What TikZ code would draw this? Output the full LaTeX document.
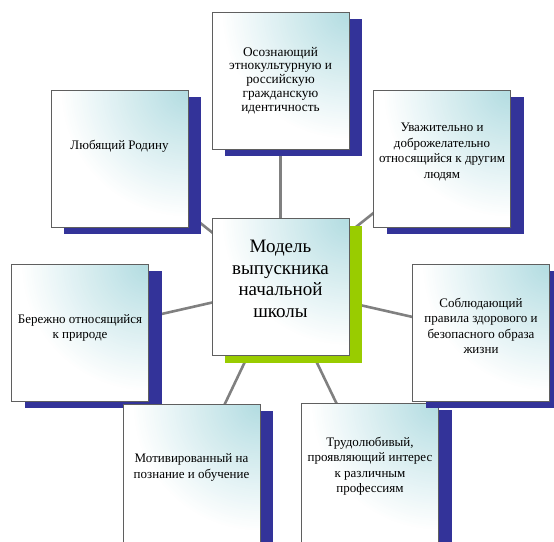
\documentclass[tikz,border=0pt]{standalone}
\usepackage{fontspec}
\setmainfont{Liberation Serif}
\usetikzlibrary{shadows,backgrounds}
\definecolor{teal0}{RGB}{178,220,225}
\definecolor{sblue}{RGB}{51,51,153}
\definecolor{sgreen}{RGB}{153,204,0}
\definecolor{bord}{RGB}{95,95,95}
\definecolor{conn}{RGB}{128,128,128}
\tikzset{
  box/.style={draw=bord, line width=0.8pt, minimum width=137pt, minimum height=137pt,
    inner sep=0pt, outer sep=0pt, fill=white,
    path picture={
      \foreach \i in {0,...,60} {
        \pgfmathsetmacro\rr{128*(1-\i/60)}
        \pgfmathsetmacro\pp{100*\i/60}
        \fill[teal0!\pp!white] (path picture bounding box.north east) circle (\rr pt);
      }},
    drop shadow={shadow xshift=13pt, shadow yshift=-7pt, fill=#1, opacity=1, draw=none}},
  box/.default=sblue,
  txt/.style={align=center, inner sep=0pt, text=black, font=\fontsize{13}{15.5}\selectfont},
  ttxt/.style={txt, font=\fontsize{13.3}{13.8}\selectfont},
  ctxt/.style={align=center, inner sep=0pt, text=black, font=\fontsize{19}{21.7}\selectfont},
  conline/.style={draw=conn, line width=2.6pt}
}
\begin{document}
\begin{tikzpicture}[x=1pt,y=-1pt]
\useasboundingbox (0,0) rectangle (554,541);
\clip (0,0) rectangle (554,541);
\node[box, label={[ttxt]center:{Осознающий\\этнокультурную и\\российскую\\гражданскую\\идентичность}}] (T) at (280.5,80.5) {};
\node[box, label={[txt,yshift=12.5pt]center:{Любящий Родину}}] (L1) at (119.5,158.5) {};
\node[box, label={[txt,yshift=6.5pt]center:{Уважительно и\\доброжелательно\\относящийся к другим\\людям}}] (R1) at (442,158.5) {};
\node[box=sgreen, label={[ctxt,yshift=8pt]center:{Модель\\выпускника\\начальной\\школы}}] (C) at (280.5,287) {};
\node[box, label={[txt,yshift=4.5pt]center:{Бережно относящийся\\к природе}}] (L2) at (80,332.5) {};
\node[box, minimum height=140pt, label={[txt,yshift=7pt]center:{Трудолюбивый,\\проявляющий интерес\\к различным\\профессиям}}] (B2) at (370,473) {};
\node[box, label={[txt,yshift=6.5pt]center:{Соблюдающий\\правила здорового и\\безопасного образа\\жизни}}] (R2) at (481,332.5) {};
\node[box, minimum height=140pt, label={[txt,yshift=6.5pt]center:{Мотивированный на\\познание и обучение}}] (B1) at (191.5,474) {};
\begin{pgfonlayer}{background}
\foreach \n in {T,L1,R1,L2,R2,B1,B2} {\draw[conline] (C.center) -- (\n.center);}
\end{pgfonlayer}
\end{tikzpicture}
\end{document}
